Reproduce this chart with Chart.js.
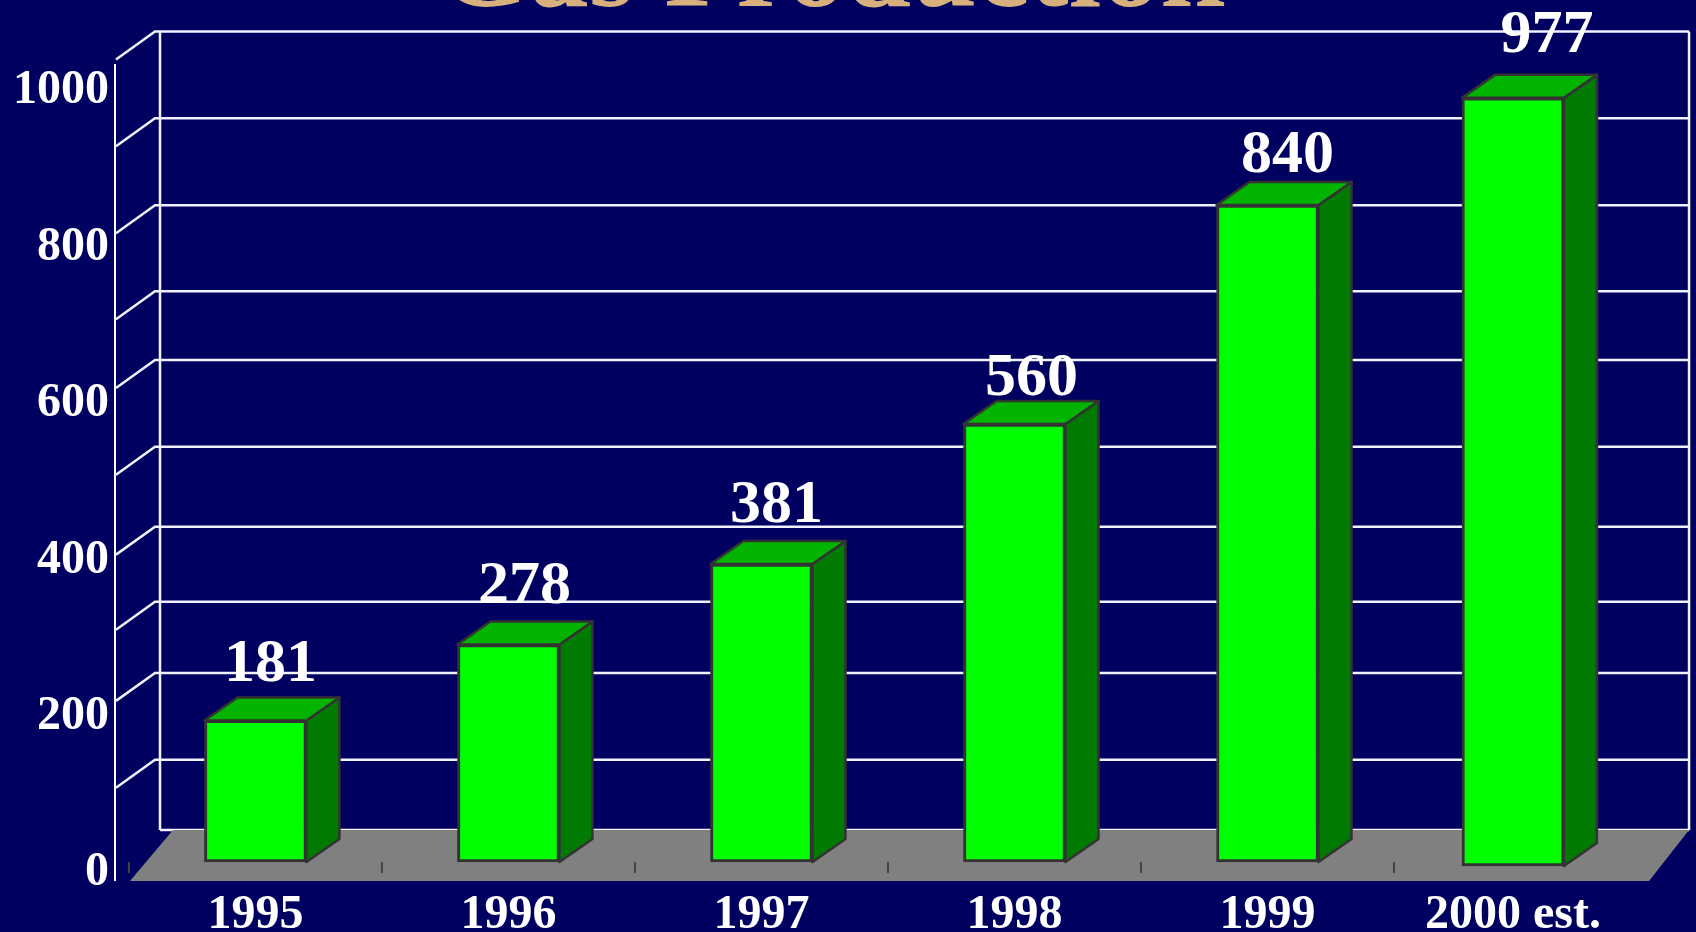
<!DOCTYPE html>
<html>
<head>
<meta charset="utf-8">
<title>Gas Production</title>
<script src="https://cdn.jsdelivr.net/npm/chart.js@4"></script>
<style>
  html, body { margin: 0; padding: 0; background: #000060; overflow: hidden; }
  #wrap { width: 1696px; height: 932px; }
</style>
</head>
<body>
<div id="wrap"><canvas id="gas" width="1696" height="932"></canvas></div>
<script>
const categories = ['1995', '1996', '1997', '1998', '1999', '2000 est.'];
const production = [181, 278, 381, 560, 840, 977];
// the last bar sits a little lower and to the left of its slot in the picture
const barBases = [0, 0, 0, 0, 0, -5];
const barSlots = [0.5, 1.5, 2.5, 3.5, 4.5, 5.47];
const axisTicks = [0, 200, 400, 600, 800, 1000];
// the back wall lines are not evenly spaced in the picture
const wallLines = [5, 95, 206, 297, 393, 495, 606, 694, 804, 915, 1026];
const title = 'Gas Production';

const serif = '"Liberation Serif", "Times New Roman", serif';
const wallDepth = { x: 45, y: 28 };
const barDepth = { x: 33, y: 23 };
const edge = '#333333';
// the value labels were placed by hand in the original
const labelDx = [15, 16, 15, 17, 20, 34];
const labelDy = [-55, -58, -58, -45, -49, -62];

function poly(ctx, pts, fill, stroke, width) {
  ctx.beginPath();
  pts.forEach((p, i) => (i ? ctx.lineTo(p[0], p[1]) : ctx.moveTo(p[0], p[1])));
  ctx.closePath();
  ctx.fillStyle = fill;
  ctx.fill();
  if (stroke) {
    ctx.strokeStyle = stroke;
    ctx.lineWidth = width;
    ctx.lineJoin = 'round';
    ctx.stroke();
  }
}

// 3D room and bar sides, none of this exists in Chart.js
const room = {
  id: 'room',
  beforeDatasetsDraw(chart) {
    const { ctx, scales: { x, y } } = chart;
    const left = x.getPixelForValue(0);
    const right = x.getPixelForValue(6);
    const floorFront = chart.chartArea.bottom + 1;
    const wallLeft = chart.chartArea.left + wallDepth.x;
    const wallRight = right + 42;
    const wallBottom = y.getPixelForValue(wallLines[0]) - wallDepth.y;
    const wallTop = y.getPixelForValue(wallLines[wallLines.length - 1]) - wallDepth.y;

    ctx.save();
    ctx.strokeStyle = '#f2f2ff';
    ctx.lineWidth = 2.5;
    wallLines.forEach((v, i) => {
      const py = y.getPixelForValue(v) - wallDepth.y;
      ctx.beginPath();
      ctx.moveTo(wallLeft, py);
      ctx.lineTo(wallRight, py);
      ctx.stroke();
      if (i > 0) {
        ctx.beginPath();
        ctx.moveTo(chart.chartArea.left + 1, py + wallDepth.y);
        ctx.lineTo(wallLeft - 5, py);
        ctx.lineTo(wallLeft, py);
        ctx.stroke();
      }
    });
    ctx.beginPath();
    ctx.moveTo(wallLeft, wallTop);
    ctx.lineTo(wallLeft, wallBottom);
    ctx.moveTo(wallRight, wallTop);
    ctx.lineTo(wallRight, wallBottom);
    ctx.stroke();

    poly(ctx, [
      [left + 1, floorFront],
      [wallLeft + 13, wallBottom],
      [wallRight, wallBottom],
      [right + 2, floorFront]
    ], '#808080');

    // tick marks between the categories, on the floor
    ctx.strokeStyle = '#444444';
    ctx.lineWidth = 2;
    for (let i = 0; i < categories.length; i++) {
      const tx = x.getPixelForValue(i);
      ctx.beginPath();
      ctx.moveTo(tx, floorFront - 19);
      ctx.lineTo(tx, floorFront - 8);
      ctx.stroke();
    }

    chart.getDatasetMeta(0).data.forEach(bar => {
      const l = bar.x - bar.width / 2;
      const r = bar.x + bar.width / 2;
      poly(ctx, [
        [r, bar.y],
        [r + barDepth.x, bar.y - barDepth.y],
        [r + barDepth.x, bar.base - barDepth.y],
        [r, bar.base]
      ], '#007a00', edge, 2.5);
      poly(ctx, [
        [l, bar.y],
        [l + barDepth.x, bar.y - barDepth.y],
        [r + barDepth.x, bar.y - barDepth.y],
        [r, bar.y]
      ], '#00b400', edge, 2.5);
    });
    ctx.restore();
  },
  afterDatasetsDraw(chart) {
    const { ctx } = chart;
    ctx.save();
    ctx.fillStyle = '#ffffff';
    ctx.font = 'bold 62px ' + serif;
    ctx.textAlign = 'center';
    ctx.textBaseline = 'middle';
    chart.getDatasetMeta(0).data.forEach((bar, i) => {
      ctx.fillText(String(production[i]), bar.x + labelDx[i], bar.y + labelDy[i]);
    });
    ctx.restore();
  }
};

new Chart(document.getElementById('gas'), {
  type: 'bar',
  data: {
    datasets: [{
      data: production.map((v, i) => ({ x: barSlots[i], y: [barBases[i], v] })),
      backgroundColor: '#00ff00',
      borderColor: edge,
      borderWidth: 3,
      borderSkipped: false,
      barThickness: 102
    }]
  },
  plugins: [room],
  options: {
    responsive: false,
    animation: false,
    layout: { padding: { top: 65, right: 32, left: 0, bottom: 0 } },
    plugins: {
      legend: { display: false },
      tooltip: { enabled: false },
      title: {
        display: true,
        text: title,
        color: '#d8b07e',
        font: { family: serif, size: 118, weight: 'bold', lineHeight: 1 },
        padding: { top: -148, bottom: 30 }
      }
    },
    scales: {
      x: {
        type: 'linear',
        offset: false,
        min: -0.055,
        max: 6.067,
        grid: { display: false, drawTicks: false },
        border: { display: false },
        afterBuildTicks: scale => { scale.ticks = barSlots.map(value => ({ value })); },
        afterFit: scale => { scale.height = 52; },
        ticks: {
          color: '#ffffff',
          font: { family: serif, size: 48, weight: 'bold' },
          padding: 7,
          maxRotation: 0,
          autoSkip: false,
          callback: (v, i) => categories[i]
        }
      },
      y: {
        min: -23,
        max: 1019,
        grid: { display: false, drawTicks: false },
        border: { color: '#ffffff', width: 2 },
        afterBuildTicks: scale => { scale.ticks = axisTicks.map(value => ({ value })); },
        afterFit: scale => { scale.width = 115; },
        ticks: {
          color: '#ffffff',
          font: { family: serif, size: 48, weight: 'bold' },
          padding: 6,
          labelOffset: 11,
          autoSkip: false,
          callback: v => String(v)
        }
      }
    }
  }
});
</script>
</body>
</html>
